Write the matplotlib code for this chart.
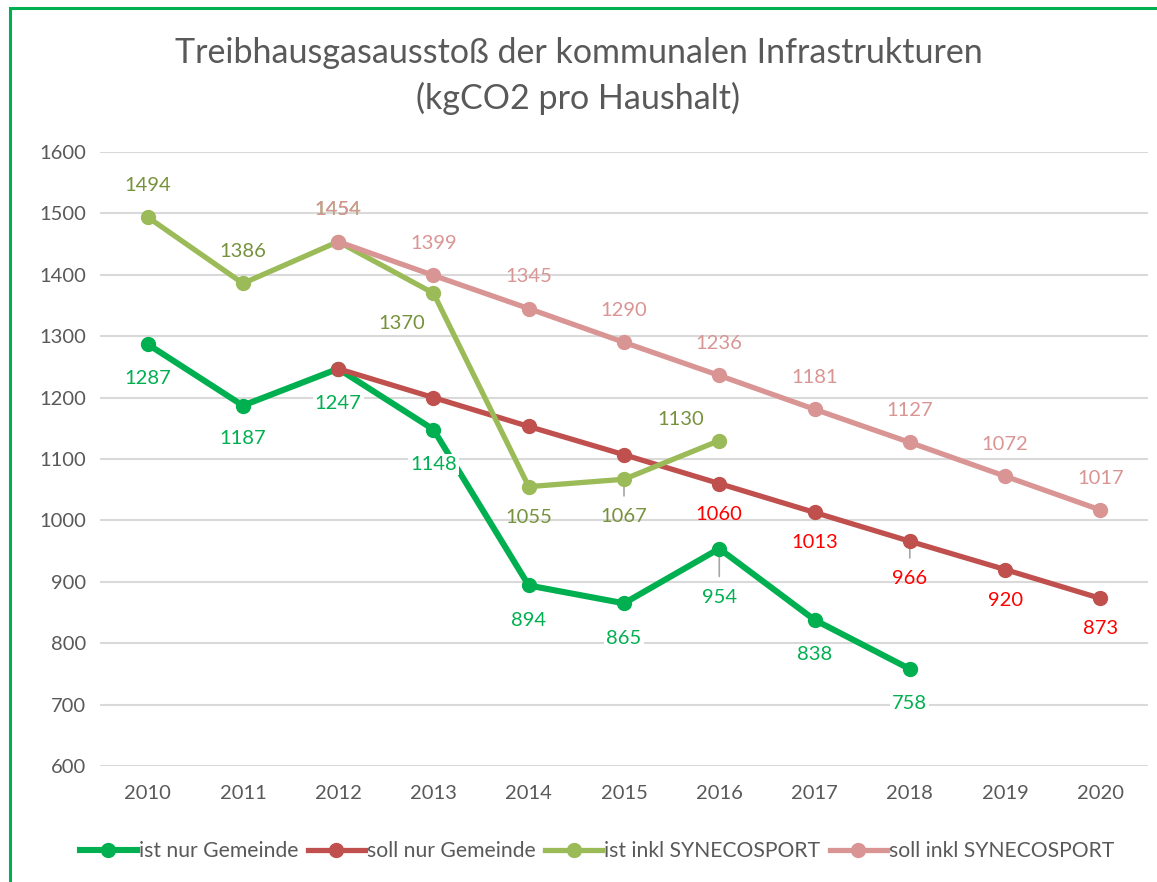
import matplotlib.pyplot as plt
from matplotlib.patches import Rectangle

plt.rcParams['font.family'] = ['Lato', 'DejaVu Sans']

# daten
years = [2010, 2011, 2012, 2013, 2014, 2015, 2016, 2017, 2018, 2019, 2020]

ist_gem_years = years[:9]
ist_gem = [1287, 1187, 1247, 1148, 894, 865, 954, 838, 758]

soll_gem_years = years[2:]
soll_gem = [1247, 1200, 1153, 1107, 1060, 1013, 966, 920, 873]

ist_syn_years = years[:7]
ist_syn = [1494, 1386, 1454, 1370, 1055, 1067, 1130]

soll_syn_years = years[2:]
soll_syn = [1454, 1399, 1345, 1290, 1236, 1181, 1127, 1072, 1017]

# farben
c_ist_gem = '#00B050'
c_soll_gem = '#C0504D'
c_ist_syn = '#9BBB59'
c_soll_syn = '#D99594'
c_txt = '#595959'

fig = plt.figure(figsize=(11.57, 8.82), dpi=100)
ax = fig.add_axes([100 / 1157, 1 - 766 / 882, 1048 / 1157, (766 - 152) / 882])

ax.plot(ist_gem_years, ist_gem, color=c_ist_gem, lw=4.4, marker='o', ms=10,
        label='ist nur Gemeinde', zorder=3)
ax.plot(soll_gem_years, soll_gem, color=c_soll_gem, lw=3.8, marker='o', ms=10,
        label='soll nur Gemeinde', zorder=4)
ax.plot(ist_syn_years, ist_syn, color=c_ist_syn, lw=3.8, marker='o', ms=10,
        label='ist inkl SYNECOSPORT', zorder=5)
ax.plot(soll_syn_years, soll_syn, color=c_soll_syn, lw=3.8, marker='o', ms=10,
        label='soll inkl SYNECOSPORT', zorder=6)

# beschriftungen (offset in punkten)
fs = 14.5
off_ist_gem = [(0, -25), (0, -24), (0, -25), (0, -25), (0, -25), (0, -25), (0, -35), (0, -25), (0, -25)]
for x, y, o in zip(ist_gem_years, ist_gem, off_ist_gem):
    ax.annotate(str(y), (x, y), xytext=o, textcoords='offset points', ha='center', va='center',
                color=c_ist_gem, fontsize=fs, zorder=7,
                bbox=dict(boxstyle='square,pad=0.1', fc='white', ec='none'))

off_ist_syn = [(0, 23), (0, 23), (0, 23), (-23, -22), (0, -22), (0, -27), (-28, 15)]
for x, y, o in zip(ist_syn_years, ist_syn, off_ist_syn):
    ax.annotate(str(y), (x, y), xytext=o, textcoords='offset points', ha='center', va='center',
                color='#76923C', fontsize=fs, zorder=7)

for x, y in zip(soll_gem_years[4:], soll_gem[4:]):
    dy = -27 if x == 2018 else -22
    ax.annotate(str(y), (x, y), xytext=(0, dy), textcoords='offset points', ha='center', va='center',
                color='#FF0000', fontsize=fs, zorder=7)

for x, y in zip(soll_syn_years, soll_syn):
    ax.annotate(str(y), (x, y), xytext=(0, 23), textcoords='offset points', ha='center', va='center',
                color=c_soll_syn, fontsize=fs, zorder=8)

# fuehrungslinien
for x, y, dy in [(2015, 1067, -14), (2016, 954, -22), (2018, 966, -14)]:
    ax.annotate('', (x, y), xytext=(0, dy), textcoords='offset points',
                arrowprops=dict(arrowstyle='-', color='#A6A6A6', lw=1.2), zorder=2)

ax.set_xlim(2009.5, 2020.5)
ax.set_ylim(600, 1600)
ax.set_xticks(years)
ax.set_yticks(range(600, 1601, 100))
ax.tick_params(length=0, labelsize=fs, colors=c_txt, pad=10)
ax.tick_params(axis='x', pad=14)
ax.grid(axis='y', color='#D9D9D9', lw=1.5, zorder=0)
for s in ax.spines.values():
    s.set_visible(False)

fig.text(0.5, 1 - 53 / 882, 'Treibhausgasausstoß der kommunalen Infrastrukturen',
         ha='center', va='center', fontsize=24.5, color=c_txt)
fig.text(0.5, 1 - 98 / 882, '(kgCO2 pro Haushalt)',
         ha='center', va='center', fontsize=24.5, color=c_txt)

leg = fig.legend(loc='center', bbox_to_anchor=(0.516, 1 - 851 / 882), ncol=4, frameon=False,
                 fontsize=15.2, handlelength=2.7, handletextpad=0.1, columnspacing=0.45,
                 labelcolor=c_txt)

# gruener rahmen
fig.patches.append(Rectangle((10 / 1157, -0.05), 1.2, 1.05 - 8 / 882, transform=fig.transFigure,
                             fill=False, ec='#00B050', lw=2.2))

fig.savefig('out.png', dpi=100)
